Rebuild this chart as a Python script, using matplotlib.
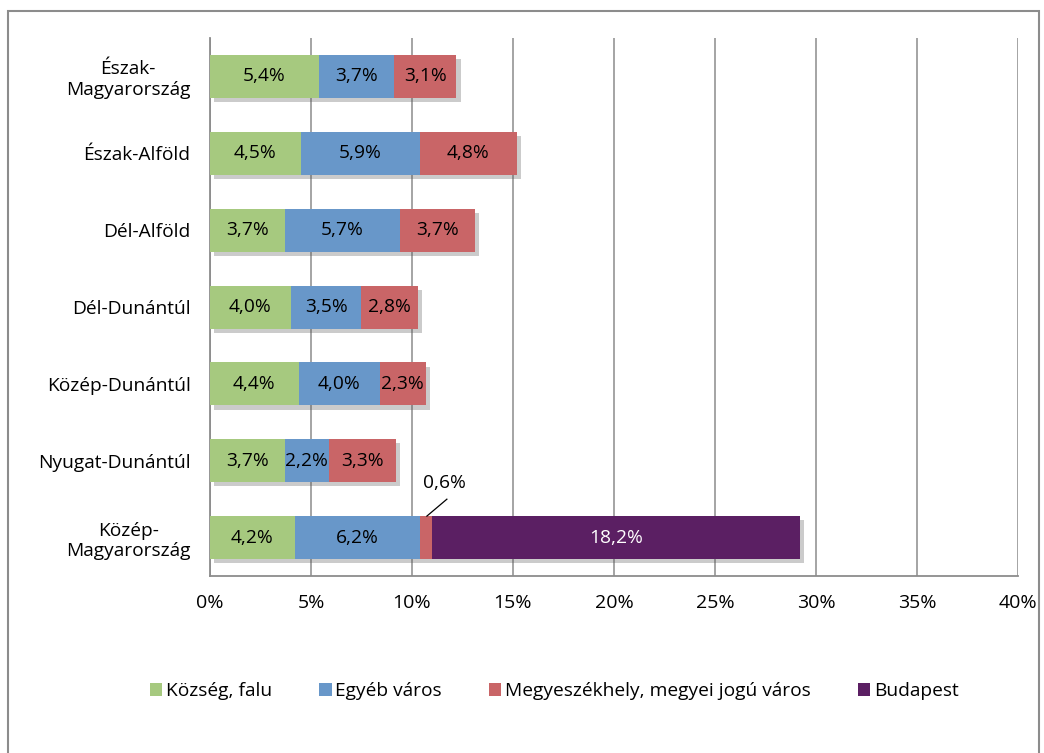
import matplotlib
matplotlib.use("Agg")
import matplotlib.pyplot as plt
import matplotlib.patheffects as pe
from matplotlib.patches import Rectangle
import numpy as np

plt.rcParams['font.family'] = ['Open Sans', 'DejaVu Sans']

regions = ['Észak-\nMagyarország', 'Észak-Alföld', 'Dél-Alföld', 'Dél-Dunántúl',
           'Közép-Dunántúl', 'Nyugat-Dunántúl', 'Közép-\nMagyarország']
series = ['Község, falu', 'Egyéb város', 'Megyeszékhely, megyei jogú város', 'Budapest']
kozseg = [5.4, 4.5, 3.7, 4.0, 4.4, 3.7, 4.2]
egyeb = [3.7, 5.9, 5.7, 3.5, 4.0, 2.2, 6.2]
megye = [3.1, 4.8, 3.7, 2.8, 2.3, 3.3, 0.6]
budapest = [0, 0, 0, 0, 0, 0, 18.2]
colors = ['#a6c97f', '#6897c9', '#c96567', '#5b1f63']
xticks = [0, 5, 10, 15, 20, 25, 30, 35, 40]

fs = 13.8
fig = plt.figure(figsize=(10.44, 7.53), dpi=100)
ax = fig.add_axes([0.2011, 0.235, 0.7739, 0.7145])

y = np.arange(len(regions))
left = np.zeros(len(regions))
all_bars = []
for name, vals, col in zip(series, [kozseg, egyeb, megye, budapest], colors):
    vals = np.array(vals)
    bars = ax.barh(y, vals, left=left, height=0.56, color=col, label=name, zorder=3)
    all_bars.extend(bars)
    for i, v in enumerate(vals):
        if v >= 1:
            ax.text(left[i] + v / 2, y[i], f"{v:.1f}%".replace('.', ','),
                    ha='center', va='center', fontsize=fs, zorder=5,
                    color='white' if col == colors[3] else 'black')
    left += vals

# small segment label with leader line
ax.plot([10.74, 11.73], [5.72, 5.5], color='black', lw=0.9, zorder=5)
ax.text(11.6, 5.29, '0,6%', ha='center', va='center', fontsize=fs, zorder=5)

ax.set_xlim(0, 40)
ax.set_ylim(6.5, -0.5)
ax.set_xticks(xticks)
ax.set_xticklabels([f"{t}%" for t in xticks], fontsize=14)
ax.set_yticks(y)
ax.set_yticklabels(regions, fontsize=fs, multialignment='center')
ax.tick_params(length=0)
ax.tick_params(axis='x', pad=13)
ax.tick_params(axis='y', pad=14)
ax.grid(axis='x', color='#8c8c8c', lw=1.1, zorder=0)
for s in ['top', 'right']:
    ax.spines[s].set_visible(False)
for s in ['left', 'bottom']:
    ax.spines[s].set_color('#8c8c8c')
    ax.spines[s].set_linewidth(1.3)

fig.legend(loc='center', bbox_to_anchor=(0.531, 0.082), ncol=4, frameon=False,
           fontsize=fs, handlelength=0.65, handleheight=0.65, handletextpad=0.2,
           columnspacing=2.45)

# soft drop shadow on bars (after legend so handles stay flat)
shadow = [pe.SimplePatchShadow(offset=(3, -3), alpha=0.3, shadow_rgbFace='#555555'), pe.Normal()]
for b in all_bars:
    b.set_path_effects(shadow)

fig.patches.append(Rectangle((8 / 1044, -0.05), 1031 / 1044, 1.05 - 11 / 753,
                             transform=fig.transFigure, fill=False,
                             edgecolor='#8c8c8c', lw=1.5))

fig.savefig('out.png', dpi=100)
